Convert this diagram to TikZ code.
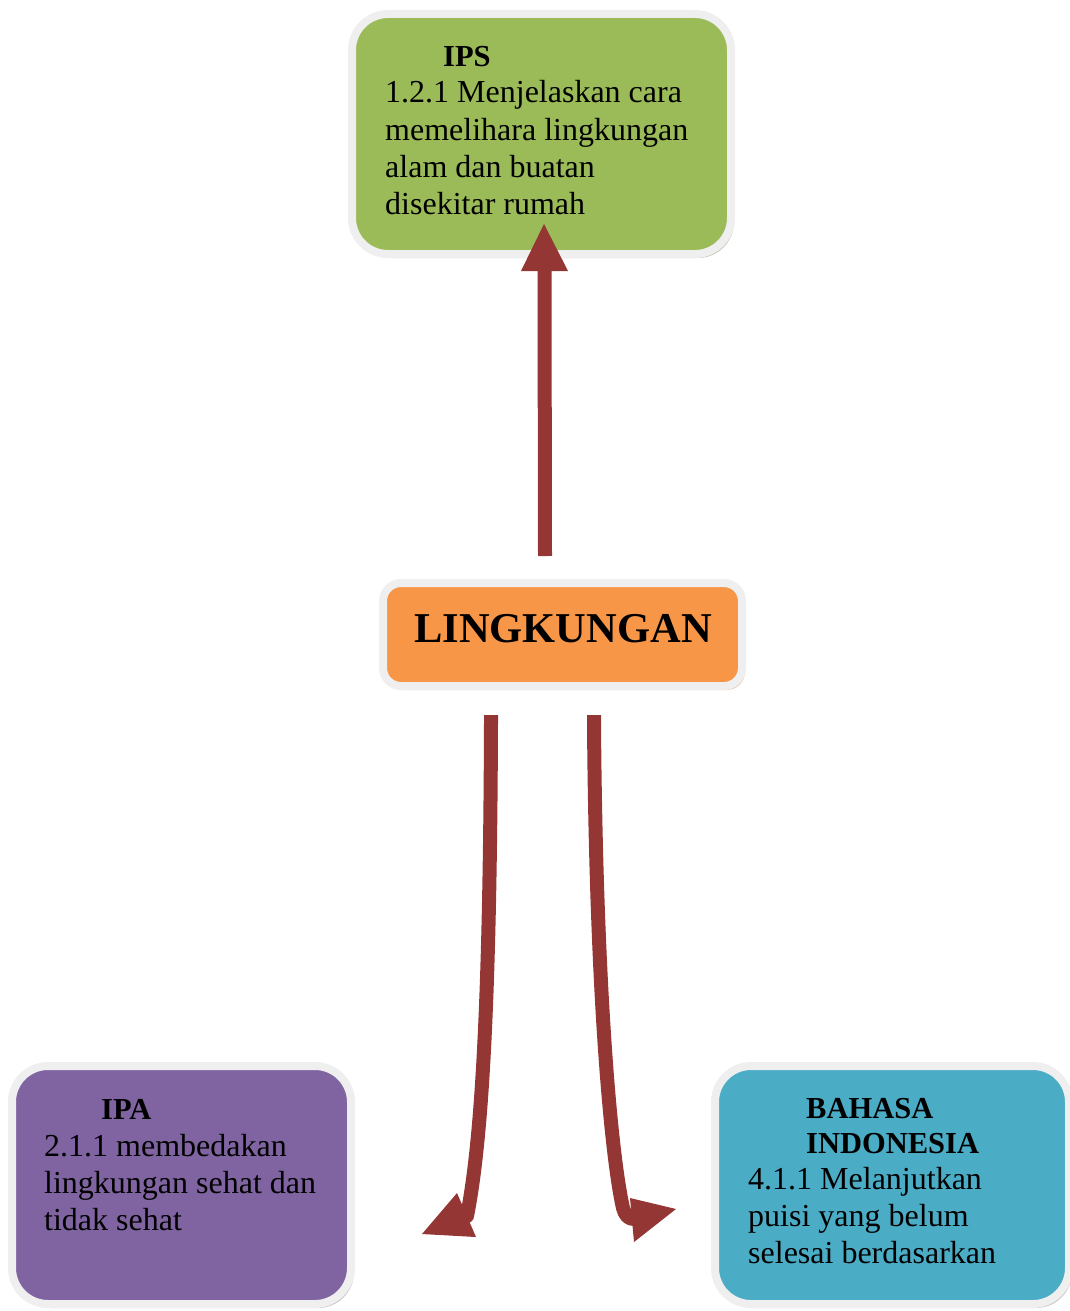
\documentclass[tikz,border=0pt]{standalone}
\usepackage{fontspec}
\setmainfont{Liberation Serif}
\usetikzlibrary{shadows}
\definecolor{arrowred}{HTML}{943634}
\definecolor{ipsgreen}{HTML}{9BBB59}
\definecolor{coreorange}{HTML}{F79646}
\definecolor{ipapurple}{HTML}{8064A2}
\definecolor{bindblue}{HTML}{4BACC6}
\definecolor{framegrey}{HTML}{EFEFEF}
\tikzset{
  box/.style={draw=framegrey, line width=8pt, rounded corners=#1, inner sep=0pt},
  body/.style={anchor=base west, inner sep=0pt, font=\fontsize{32}{37}\selectfont},
  title/.style={anchor=base west, inner sep=0pt, font=\fontsize{30.5}{37}\selectfont\bfseries},
  shaft/.style={draw=arrowred, line width=14pt},
  head/.style={fill=arrowred}
}
\begin{document}
\begin{tikzpicture}[x=1pt,y=-1pt]
\useasboundingbox (0,0) rectangle (1069,1311);

% IPS box
\node[box=36pt, fill=ipsgreen, minimum width=379pt, minimum height=240pt,
  drop shadow={shadow xshift=3pt, shadow yshift=-4pt, fill=black!40!ipsgreen!70!white}] (ips) at (541.5,134) {};
\node[title] (ipst) at (443,67) {IPS};
\node[body] (ips1) at (385,103) {1.2.1 Menjelaskan cara};
\node[body] (ips2) at (385,140) {memelihara lingkungan};
\node[body] (ips3) at (385,177) {alam dan buatan};
\node[body] (ips4) at (385,214) {disekitar rumah};

% Core box
\node[box=18pt, fill=coreorange, minimum width=359pt, minimum height=103pt,
  drop shadow={shadow xshift=3pt, shadow yshift=-4pt, fill=brown!70!white}] (core) at (562.5,634.5) {};
\node[anchor=base west, inner sep=0pt, font=\fontsize{42.5}{48}\selectfont\bfseries] (coret) at (414,642) {LINGKUNGAN};

% IPA box
\node[box=36pt, fill=ipapurple, minimum width=339pt, minimum height=238pt,
  drop shadow={shadow xshift=3pt, shadow yshift=-4pt, fill=black!45!white}] (ipa) at (181.5,1185) {};
\node[title] (ipat) at (101,1119) {IPA};
\node[body] (ipa1) at (44,1156) {2.1.1 membedakan};
\node[body] (ipa2) at (44,1193) {lingkungan sehat dan};
\node[body] (ipa3) at (44,1230) {tidak sehat};

% Bahasa Indonesia box
\node[box=36pt, fill=bindblue, minimum width=354pt, minimum height=238pt,
  drop shadow={shadow xshift=3pt, shadow yshift=-4pt, fill=black!45!white}] (bind) at (892,1185) {};
\node[title] (bindt1) at (806,1118) {BAHASA};
\node[title] (bindt2) at (806,1153) {INDONESIA};
\node[body] (bind1) at (748,1189) {4.1.1 Melanjutkan};
\node[body] (bind2) at (748,1226) {puisi yang belum};
\node[body] (bind3) at (748,1263) {selesai berdasarkan};

% Arrow to IPS
\coordinate (upstart) at (545,556);
\coordinate (upend) at (544.5,268);
\draw[shaft] (upstart) -- (upend);
\fill[head] (521,271) -- (568,271) -- (544,224) -- cycle;

% Arrow to IPA
\coordinate (lstart) at (491,715);
\coordinate (lend) at (467,1216);
\draw[shaft, line join=round] (lstart) -- (491,722) .. controls (490,1000) and (482,1140) .. (lend);
\fill[arrowred] (lend) circle (7pt);
\fill[head] (422,1234) -- (457,1193) -- (476,1237) -- cycle;

% Arrow to Bahasa Indonesia
\coordinate (rstart) at (594,715);
\coordinate (rend) at (634,1219);
\draw[shaft, line join=round] (rstart) -- (594,722) .. controls (596,1000) and (612,1160) .. (623,1208) .. controls (625,1215) and (628,1219) .. (rend);
\fill[head] (630,1198) -- (676,1209) -- (634,1242) -- cycle;
\end{tikzpicture}
\end{document}
